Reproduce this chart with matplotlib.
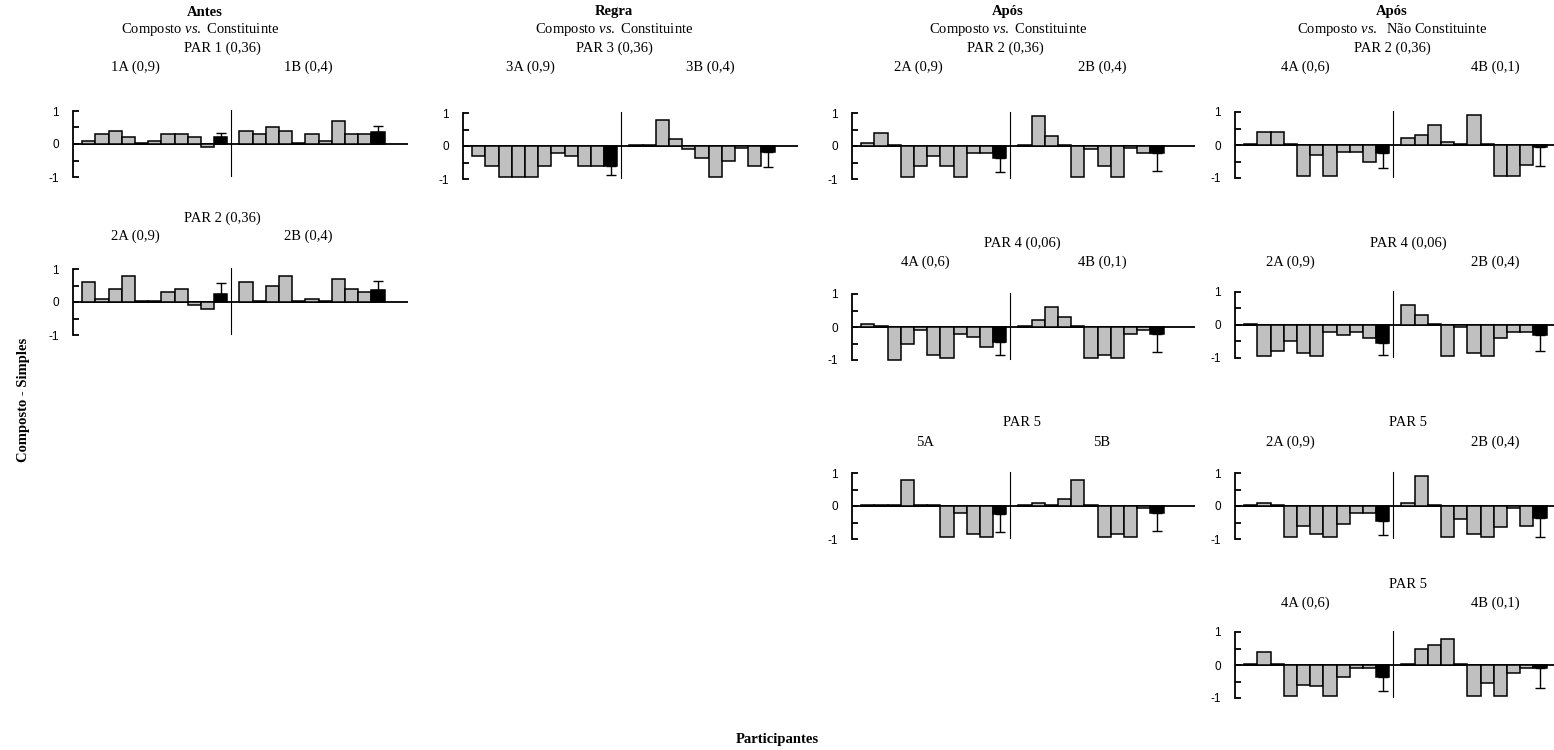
import matplotlib.pyplot as plt
import numpy as np

plt.rcParams['font.family'] = 'Liberation Serif'
plt.rcParams['mathtext.fontset'] = 'custom'
plt.rcParams['mathtext.rm'] = 'Liberation Serif'
plt.rcParams['mathtext.it'] = 'Liberation Serif:italic'

# scores per participant (10 each), then group mean and SD (black bar)
antes_p1_a = [0.1, 0.3, 0.4, 0.2, 0.04, 0.1, 0.3, 0.3, 0.2, -0.1]
antes_p1_b = [0.4, 0.3, 0.5, 0.4, 0.04, 0.3, 0.1, 0.7, 0.3, 0.3]
antes_p1_mean = [0.2, 0.35]
antes_p1_sd = [0.14, 0.19]

antes_p2_a = [0.6, 0.1, 0.4, 0.8, 0.04, 0.04, 0.3, 0.4, -0.1, -0.2]
antes_p2_b = [0.6, 0.04, 0.5, 0.8, 0.04, 0.1, 0.04, 0.7, 0.4, 0.3]
antes_p2_mean = [0.25, 0.35]
antes_p2_sd = [0.32, 0.3]

regra_p3_a = [-0.3, -0.6, -0.95, -0.95, -0.95, -0.6, -0.2, -0.3, -0.6, -0.6]
regra_p3_b = [0.04, 0.04, 0.8, 0.2, -0.1, -0.35, -0.95, -0.45, -0.05, -0.6]
regra_p3_mean = [-0.62, -0.17]
regra_p3_sd = [0.26, 0.46]

apos_c_p2_a = [0.1, 0.4, 0.04, -0.95, -0.6, -0.3, -0.6, -0.95, -0.2, -0.2]
apos_c_p2_b = [0.04, 0.9, 0.3, 0.04, -0.95, -0.1, -0.6, -0.95, -0.05, -0.2]
apos_c_p2_mean = [-0.35, -0.2]
apos_c_p2_sd = [0.45, 0.55]

apos_c_p4_a = [0.1, 0.04, -1.0, -0.5, -0.1, -0.85, -0.95, -0.2, -0.3, -0.6]
apos_c_p4_b = [0.04, 0.2, 0.6, 0.3, 0.04, -0.95, -0.85, -0.95, -0.2, -0.1]
apos_c_p4_mean = [-0.45, -0.2]
apos_c_p4_sd = [0.4, 0.55]

apos_c_p5_a = [0.04, 0.04, 0.04, 0.8, 0.04, 0.04, -0.95, -0.2, -0.85, -0.95]
apos_c_p5_b = [0.04, 0.1, 0.04, 0.2, 0.8, 0.04, -0.95, -0.85, -0.95, -0.05]
apos_c_p5_mean = [-0.25, -0.2]
apos_c_p5_sd = [0.55, 0.55]

apos_nc_p2_a = [0.04, 0.4, 0.4, 0.04, -0.95, -0.3, -0.95, -0.2, -0.2, -0.5]
apos_nc_p2_b = [0.2, 0.3, 0.6, 0.1, 0.04, 0.9, 0.04, -0.95, -0.95, -0.6]
apos_nc_p2_mean = [-0.25, -0.05]
apos_nc_p2_sd = [0.45, 0.6]

apos_nc_p4_a = [0.04, -0.95, -0.8, -0.5, -0.85, -0.95, -0.2, -0.3, -0.2, -0.4]
apos_nc_p4_b = [0.6, 0.3, 0.04, -0.95, -0.05, -0.85, -0.95, -0.4, -0.2, -0.2]
apos_nc_p4_mean = [-0.55, -0.3]
apos_nc_p4_sd = [0.35, 0.5]

apos_nc_p5a_a = [0.04, 0.1, 0.04, -0.95, -0.6, -0.85, -0.95, -0.55, -0.2, -0.2]
apos_nc_p5a_b = [0.1, 0.9, 0.04, -0.95, -0.4, -0.85, -0.95, -0.65, -0.05, -0.6]
apos_nc_p5a_mean = [-0.45, -0.35]
apos_nc_p5a_sd = [0.43, 0.6]

apos_nc_p5b_a = [0.04, 0.4, 0.04, -0.95, -0.6, -0.65, -0.95, -0.35, -0.1, -0.1]
apos_nc_p5b_b = [0.04, 0.5, 0.6, 0.8, 0.04, -0.95, -0.55, -0.95, -0.25, -0.1]
apos_nc_p5b_mean = [-0.35, -0.1]
apos_nc_p5b_sd = [0.45, 0.6]

W, H = 1554, 750
U = 33.0      # px per unit on y
BW = 13.2     # px per bar

fig = plt.figure(figsize=(W / 100, H / 100), dpi=100)


def panel(spine_x, zero_y, a, b, means, sds, xmax=25.4):
    ax = fig.add_axes([spine_x / W, (H - zero_y - 1.05 * U) / H,
                       xmax * BW / W, 2.1 * U / H])
    ax.set_xlim(0, xmax)
    ax.set_ylim(-1.05, 1.05)
    for start, vals, m, s in [(0.7, a, means[0], sds[0]),
                              (12.6, b, means[1], sds[1])]:
        x = start + 0.5 + np.arange(len(vals))
        ax.bar(x, vals, width=1.0, color='#c0c0c0', edgecolor='black',
               linewidth=1.1, zorder=2)
        xm = start + 0.5 + len(vals)
        ax.bar(xm, m, width=1.0, color='black', edgecolor='black',
               linewidth=1.1, zorder=2)
        yerr = [[0], [s]] if m >= 0 else [[s], [0]]
        ax.errorbar(xm, m, yerr=yerr, fmt='none', ecolor='black',
                    elinewidth=1.0, capsize=3.5, capthick=1.0, zorder=3)
    ax.axhline(0, color='black', lw=1.3, zorder=1)
    ax.plot([12.0, 12.0], [-0.98, 1.03], color='black', lw=0.8,
            clip_on=False)
    for sp in ['top', 'right', 'bottom']:
        ax.spines[sp].set_visible(False)
    ax.spines['left'].set_bounds(-1, 1)
    ax.spines['left'].set_linewidth(1.3)
    ax.set_yticks([-1, -0.5, 0, 0.5, 1])
    ax.set_yticklabels(['-1', '', '0', '', '1'], family='Liberation Sans',
                       fontsize=8.5)
    ax.tick_params(axis='y', direction='in', length=4, width=1.3, pad=10)
    ax.set_xticks([])
    ax.patch.set_alpha(0)
    return ax


def txt(x, y, s, bold=False):
    fig.text(x / W, 1 - y / H, s, ha='center', va='center', fontsize=10.5,
             fontweight='bold' if bold else 'normal')


vs_c = r'Composto $\mathit{vs.}$ Constituinte'
vs_nc = r'Composto $\mathit{vs.}$  Não Constituinte'

# column 1
txt(205, 12, 'Antes', True)
txt(200, 30, vs_c)
txt(222, 48, 'PAR 1 (0,36)')
txt(135, 67, '1A (0,9)'); txt(308, 67, '1B (0,4)')
panel(73, 144, antes_p1_a, antes_p1_b, antes_p1_mean, antes_p1_sd)
txt(222, 218, 'PAR 2 (0,36)')
txt(135, 236, '2A (0,9)'); txt(308, 236, '2B (0,4)')
panel(73, 302, antes_p2_a, antes_p2_b, antes_p2_mean, antes_p2_sd)

# column 2
txt(614, 12, 'Regra', True)
txt(614, 30, vs_c)
txt(614, 48, 'PAR 3 (0,36)')
txt(530, 67, '3A (0,9)'); txt(710, 67, '3B (0,4)')
panel(463, 146, regra_p3_a, regra_p3_b, regra_p3_mean, regra_p3_sd)

# column 3
txt(1008, 12, 'Após', True)
txt(1008, 30, vs_c)
txt(1005, 48, 'PAR 2 (0,36)')
txt(918, 67, '2A (0,9)'); txt(1102, 67, '2B (0,4)')
panel(852, 146, apos_c_p2_a, apos_c_p2_b, apos_c_p2_mean, apos_c_p2_sd,
      xmax=26.0)
txt(1022, 243, 'PAR 4 (0,06)')
txt(925, 262, '4A (0,6)'); txt(1102, 262, '4B (0,1)')
panel(852, 327, apos_c_p4_a, apos_c_p4_b, apos_c_p4_mean, apos_c_p4_sd,
      xmax=26.0)
txt(1022, 423, 'PAR 5')
txt(925, 442, '5A'); txt(1102, 442, '5B')
panel(852, 506, apos_c_p5_a, apos_c_p5_b, apos_c_p5_mean, apos_c_p5_sd,
      xmax=26.0)

# column 4
txt(1392, 12, 'Após', True)
txt(1392, 30, vs_nc)
txt(1392, 48, 'PAR 2 (0,36)')
txt(1305, 67, '4A (0,6)'); txt(1495, 67, '4B (0,1)')
panel(1235, 145, apos_nc_p2_a, apos_nc_p2_b, apos_nc_p2_mean, apos_nc_p2_sd)
txt(1408, 243, 'PAR 4 (0,06)')
txt(1290, 262, '2A (0,9)'); txt(1495, 262, '2B (0,4)')
panel(1235, 325, apos_nc_p4_a, apos_nc_p4_b, apos_nc_p4_mean, apos_nc_p4_sd)
txt(1408, 423, 'PAR 5')
txt(1290, 442, '2A (0,9)'); txt(1495, 442, '2B (0,4)')
panel(1235, 506, apos_nc_p5a_a, apos_nc_p5a_b, apos_nc_p5a_mean, apos_nc_p5a_sd)
txt(1408, 584, 'PAR 5')
txt(1305, 603, '4A (0,6)'); txt(1495, 603, '4B (0,1)')
panel(1235, 665, apos_nc_p5b_a, apos_nc_p5b_b, apos_nc_p5b_mean, apos_nc_p5b_sd)

txt(777, 740, 'Participantes', True)
fig.text(24 / W, 1 - 400 / H, 'Composto - Simples', rotation=90, ha='center',
         va='center', fontsize=10.5, fontweight='bold')

fig.savefig('out.png', dpi=100)
